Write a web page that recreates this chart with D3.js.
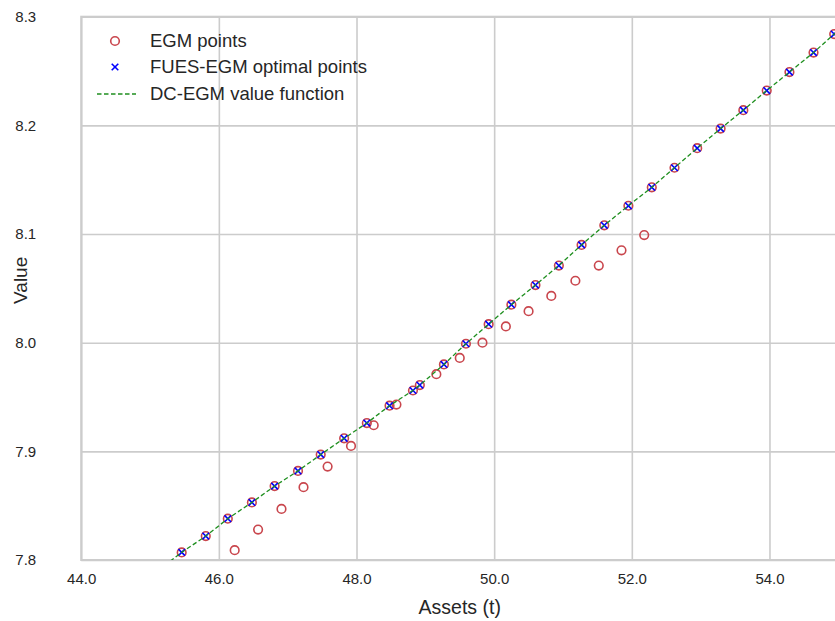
<!DOCTYPE html>
<html>
<head>
<meta charset="utf-8">
<script src="https://cdn.jsdelivr.net/npm/d3@7"></script>
<style>
  html, body { margin: 0; padding: 0; background: #ffffff; }
  svg { display: block; font-family: "Liberation Sans", Arial, sans-serif; }
</style>
</head>
<body>
<svg id="chart" width="835" height="621"></svg>
<script>
// Points retained by FUES (upper envelope of the EGM grid)
const fuesAssets = [45.46, 45.81, 46.13, 46.48, 46.81, 47.15, 47.48, 47.82, 48.15, 48.48,
                    48.82, 48.92, 49.27, 49.59, 49.92, 50.25, 50.60, 50.94, 51.27, 51.60,
                    51.95, 52.29, 52.62, 52.95, 53.29, 53.62, 53.96, 54.29, 54.64, 54.94];
const fuesValues = [7.807, 7.822, 7.838, 7.853, 7.868, 7.882, 7.897, 7.912, 7.926, 7.942,
                    7.956, 7.961, 7.980, 7.999, 8.017, 8.035, 8.053, 8.071, 8.090, 8.108,
                    8.126, 8.143, 8.161, 8.179, 8.197, 8.214, 8.232, 8.249, 8.267, 8.284];

// All raw EGM points: the envelope above plus the sub-optimal branch
const egmAssets = [45.46, 45.81, 46.13, 46.48, 46.81, 47.15, 47.48, 47.82, 48.15, 48.48,
                   48.82, 48.92, 49.27, 49.59, 49.92, 50.25, 50.60, 50.94, 51.27, 51.60,
                   51.95, 52.29, 52.62, 52.95, 53.29, 53.62, 53.96, 54.29, 54.64, 54.94,
                   46.23, 46.57, 46.91, 47.23, 47.58, 47.92, 48.25, 48.58, 49.16, 49.50,
                   49.83, 50.17, 50.50, 50.83, 51.18, 51.52, 51.85, 52.18];
const egmValues = [7.807, 7.822, 7.838, 7.853, 7.868, 7.882, 7.897, 7.912, 7.926, 7.942,
                   7.956, 7.961, 7.980, 7.999, 8.017, 8.035, 8.053, 8.071, 8.090, 8.108,
                   8.126, 8.143, 8.161, 8.179, 8.197, 8.214, 8.232, 8.249, 8.267, 8.284,
                   7.809, 7.828, 7.847, 7.867, 7.886, 7.905, 7.924, 7.943, 7.971, 7.986,
                   8.000, 8.015, 8.029, 8.043, 8.057, 8.071, 8.085, 8.099];

// DC-EGM value function on its own grid
const dcAssets = [45.13, 45.46, 45.81, 46.13, 46.48, 46.81, 47.15, 47.48, 47.82, 48.15,
                  48.48, 48.82, 48.92, 49.27, 49.59, 49.92, 50.25, 50.60, 50.94, 51.27,
                  51.60, 51.95, 52.29, 52.62, 52.95, 53.29, 53.62, 53.96, 54.29, 54.64,
                  54.94, 55.00];
const dcValues = [7.791, 7.807, 7.822, 7.838, 7.853, 7.868, 7.882, 7.897, 7.912, 7.926,
                  7.942, 7.956, 7.961, 7.980, 7.999, 8.017, 8.035, 8.053, 8.071, 8.090,
                  8.108, 8.126, 8.143, 8.161, 8.179, 8.197, 8.214, 8.232, 8.249, 8.267,
                  8.284, 8.287];

const xTicks = [44, 46, 48, 50, 52, 54];
const yTicks = [7.8, 7.9, 8.0, 8.1, 8.2, 8.3];
const legendLabels = ["EGM points", "FUES-EGM optimal points", "DC-EGM value function"];

const svg = d3.select("#chart");
const plot = { left: 81.2, top: 16.7, right: 838.3, bottom: 560 };

const x = d3.scaleLinear().domain([44, 55]).range([plot.left, plot.right]);
const y = d3.scaleLinear().domain([7.8, 8.3]).range([plot.bottom, plot.top]);

const gridColor = "#cccccc";
const textColor = "#262626";

svg.append("defs").append("clipPath").attr("id", "plotClip")
  .append("rect")
  .attr("x", plot.left).attr("y", plot.top)
  .attr("width", plot.right - plot.left).attr("height", plot.bottom - plot.top);

// Grid lines and tick labels
const xAxis = d3.axisBottom(x).tickValues(xTicks).tickSize(-(plot.bottom - plot.top))
  .tickPadding(13).tickFormat(d3.format(".1f"));
const gx = svg.append("g").attr("transform", `translate(0,${plot.bottom})`).call(xAxis);
gx.select(".domain").remove();
gx.selectAll(".tick line").attr("stroke", gridColor).attr("stroke-width", 1.6);
gx.selectAll(".tick text").attr("fill", textColor).attr("font-size", 15).attr("font-family", null);

const yAxis = d3.axisLeft(y).tickValues(yTicks).tickSize(-(plot.right - plot.left))
  .tickPadding(45).tickFormat(d3.format(".1f"));
const gy = svg.append("g").attr("transform", `translate(${plot.left},0)`).call(yAxis);
gy.select(".domain").remove();
gy.selectAll(".tick line").attr("stroke", gridColor).attr("stroke-width", 1.6);
gy.selectAll(".tick text").attr("fill", textColor).attr("font-size", 15).attr("font-family", null);
svg.selectAll(".tick text").style("font-family", "'Liberation Sans', Arial, sans-serif");

// Frame
svg.append("rect")
  .attr("x", plot.left).attr("y", plot.top)
  .attr("width", plot.right - plot.left).attr("height", plot.bottom - plot.top)
  .attr("fill", "none").attr("stroke", gridColor).attr("stroke-width", 2);

// Axis titles
svg.append("text")
  .attr("x", (plot.left + plot.right) / 2).attr("y", 614)
  .attr("text-anchor", "middle").attr("fill", textColor).attr("font-size", 19.5)
  .text("Assets (t)");
svg.append("text")
  .attr("transform", `translate(27,${(plot.top + plot.bottom) / 2 - 8}) rotate(-90)`)
  .attr("text-anchor", "middle").attr("fill", textColor).attr("font-size", 19)
  .text("Value");

const layer = svg.append("g").attr("clip-path", "url(#plotClip)");

const egmColor = "#c9464d";
const fuesColor = "#0000ff";
const dcColor = "#1f8f1f";

// EGM circles
layer.selectAll("circle.egm")
  .data(d3.range(egmAssets.length))
  .join("circle")
  .attr("class", "egm")
  .attr("cx", i => x(egmAssets[i]))
  .attr("cy", i => y(egmValues[i]))
  .attr("r", 4.3)
  .attr("fill", "none")
  .attr("stroke", egmColor)
  .attr("stroke-width", 1.6);

// FUES crosses
const cross = d3.symbol().type(d3.symbolX).size(30);
layer.selectAll("path.fues")
  .data(d3.range(fuesAssets.length))
  .join("path")
  .attr("class", "fues")
  .attr("transform", i => `translate(${x(fuesAssets[i])},${y(fuesValues[i])})`)
  .attr("d", cross)
  .attr("fill", "none")
  .attr("stroke", fuesColor)
  .attr("stroke-width", 1.6);

// DC-EGM value function
const line = d3.line().x(i => x(dcAssets[i])).y(i => y(dcValues[i]));
layer.append("path")
  .attr("d", line(d3.range(dcAssets.length)))
  .attr("fill", "none")
  .attr("stroke", dcColor)
  .attr("stroke-width", 1.3)
  .attr("stroke-dasharray", "4.5,2.5");

// Legend
const legend = svg.append("g");
const rows = [41, 67, 94];
legend.append("circle").attr("cx", 115).attr("cy", rows[0]).attr("r", 4.3)
  .attr("fill", "none").attr("stroke", egmColor).attr("stroke-width", 1.6);
legend.append("path").attr("transform", `translate(115,${rows[1]})`).attr("d", cross)
  .attr("fill", "none").attr("stroke", fuesColor).attr("stroke-width", 1.6);
legend.append("line").attr("x1", 97).attr("x2", 136).attr("y1", rows[2]).attr("y2", rows[2])
  .attr("stroke", dcColor).attr("stroke-width", 1.3).attr("stroke-dasharray", "4.5,2.5");
legend.selectAll("text.lbl")
  .data(legendLabels)
  .join("text")
  .attr("class", "lbl")
  .attr("x", 150)
  .attr("y", (d, i) => rows[i])
  .attr("dy", "0.35em")
  .attr("fill", textColor)
  .attr("font-size", 18.5)
  .text(d => d);
</script>
</body>
</html>
